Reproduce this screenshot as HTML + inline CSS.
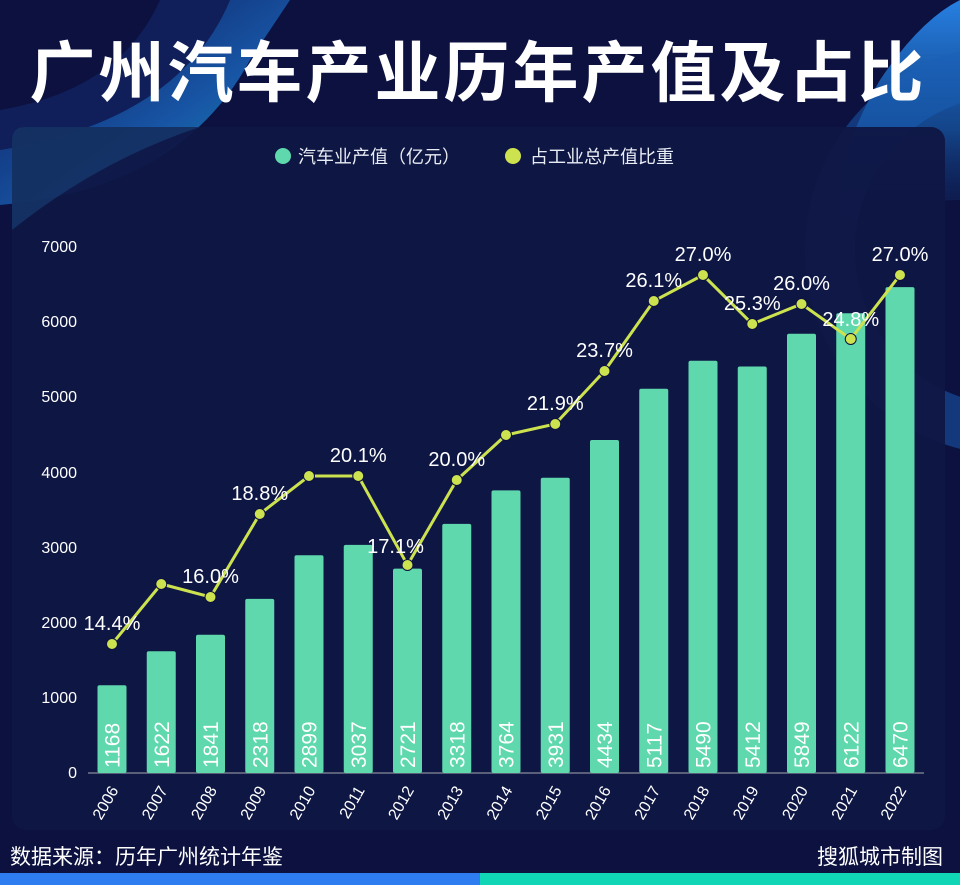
<!DOCTYPE html>
<html><head><meta charset="utf-8"><style>
html,body{margin:0;padding:0;background:#0c1140;}
svg{display:block}
</style></head><body>
<svg width="960" height="885" viewBox="0 0 960 885" xmlns="http://www.w3.org/2000/svg" font-family="Liberation Sans, Noto Sans CJK SC, sans-serif">
<defs>
<linearGradient id="g1" x1="0" y1="0" x2="1" y2="1"><stop offset="0" stop-color="#1a5fd0" stop-opacity="0.2"/><stop offset="0.6" stop-color="#1e7ee0" stop-opacity="0.8"/><stop offset="1" stop-color="#13c7b5"/></linearGradient>
<linearGradient id="g2" x1="0" y1="0" x2="0" y2="1"><stop offset="0" stop-color="#2a8cf5"/><stop offset="0.5" stop-color="#1a70c8" stop-opacity="0.6"/><stop offset="1" stop-color="#0c1140" stop-opacity="0"/></linearGradient>
</defs>
<rect width="960" height="885" fill="#0c1140"/>
<path d="M0 205 Q180 190 250 60 L290 0 L230 0 Q180 120 0 150 Z" fill="url(#g1)" opacity="0.8"/>
<path d="M0 150 Q180 120 230 0 L160 0 Q120 90 0 110 Z" fill="#142a6a" opacity="0.6"/>
<path d="M960 0 L960 200 Q880 200 850 260 Q820 180 880 80 Q920 20 960 0 Z" fill="url(#g2)" opacity="0.9"/>
<circle cx="1010" cy="250" r="180" fill="none" stroke="#1a5fb8" stroke-width="50" opacity="0.5"/>
<rect x="12" y="127" width="933" height="703" rx="14" fill="#0f1644" opacity="0.94"/>
<path d="M12 141 Q12 127 26 127 L200 127 Q100 160 12 230 Z" fill="#1a4a80" opacity="0.5"/>
<text x="478" y="96" font-size="66" font-weight="bold" fill="#fff" text-anchor="middle" font-family="Noto Sans CJK SC, sans-serif" letter-spacing="3">广州汽车产业历年产值及占比</text>
<circle cx="283" cy="156" r="8" fill="#5ed8ac"/>
<text x="298" y="163" font-size="18" fill="#e8ecf4" font-family="Noto Sans CJK SC, sans-serif">汽车业产值（亿元）</text>
<circle cx="513" cy="156" r="8" fill="#cde24f"/>
<text x="530" y="163" font-size="18" fill="#e8ecf4" font-family="Noto Sans CJK SC, sans-serif">占工业总产值比重</text>
<g font-size="16" fill="#fff" text-anchor="end">
<text x="77" y="252">7000</text><text x="77" y="327">6000</text><text x="77" y="402">5000</text><text x="77" y="478">4000</text><text x="77" y="553">3000</text><text x="77" y="628">2000</text><text x="77" y="703">1000</text><text x="77" y="778">0</text>
</g>
<line x1="88" y1="773" x2="924" y2="773" stroke="#5a5f7a" stroke-width="2"/>
<g id="bars" fill="#5ed8ac"></g>
<g id="vals" fill="#fff" font-size="21"></g>
<g id="years" fill="#fff" font-size="16"></g>
<polyline id="line" fill="none" stroke="#cde24f" stroke-width="3" points=""/>
<g id="pts" fill="#cde24f" stroke="#0c1140" stroke-width="1"></g>
<g id="pct" fill="#fff" font-size="20" text-anchor="middle" font-weight="500"></g>
<text x="10" y="864" font-size="21" fill="#fff" font-family="Noto Sans CJK SC, sans-serif">数据来源：历年广州统计年鉴</text>
<text x="943" y="864" font-size="21" fill="#fff" text-anchor="end" font-family="Noto Sans CJK SC, sans-serif">搜狐城市制图</text>
<rect x="0" y="873" width="480" height="12" fill="#2d7cf0"/>
<rect x="480" y="873" width="480" height="12" fill="#10d6b6"/>
</svg>
<script>
var v=[1168,1622,1841,2318,2899,3037,2721,3318,3764,3931,4434,5117,5490,5412,5849,6122,6470];
var py=[644,584,597,514,476,476,565,480,435,424,371,301,275,324,304,339,275];
var pl=["14.4%",null,"16.0%","18.8%",null,"20.1%","17.1%","20.0%",null,"21.9%","23.7%","26.1%","27.0%","25.3%","26.0%","24.8%","27.0%"];
var ns="http://www.w3.org/2000/svg";
function el(t,a,p,txt){var e=document.createElementNS(ns,t);for(var k in a)e.setAttribute(k,a[k]);if(txt)e.textContent=txt;document.getElementById(p).appendChild(e);}
var pts=[];
for(var i=0;i<17;i++){var cx=112+i*49.25;var h=v[i]*0.0751;
el("rect",{x:cx-14.5,y:773-h,width:29,height:h,rx:2},"bars");
el("text",{transform:"translate("+(cx+7.5)+",768) rotate(-90)"},"vals",String(v[i]));
el("text",{transform:"translate("+(cx+7)+",790) rotate(-60)","text-anchor":"end"},"years",String(2006+i));
pts.push(cx+","+py[i]);
el("circle",{cx:cx,cy:py[i],r:5.5},"pts");
if(pl[i]){var dy=(i==6)?-12:-14;var dx=(i==6)?-12:0;if(i==15)dy=-13;
el("text",{x:cx+dx,y:py[i]+dy},"pct",pl[i]);}
}
document.getElementById("line").setAttribute("points",pts.join(" "));
</script>
</body></html>
